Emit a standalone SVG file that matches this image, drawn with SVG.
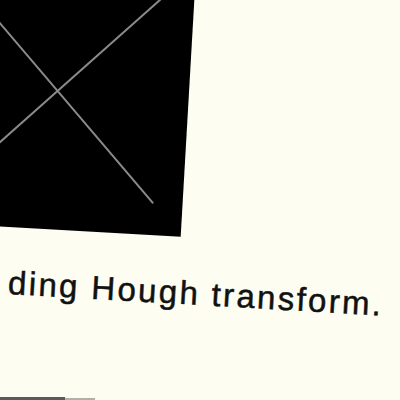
<svg xmlns="http://www.w3.org/2000/svg" width="400" height="400" viewBox="0 0 400 400">
<style>
.bg{fill:#fdfdf1}
.panel{fill:#000}
.xl{stroke:#8a8a8a;stroke-width:2;fill:none;stroke-linecap:round}
.cap{font-family:"Liberation Sans",Arial,sans-serif;font-size:33px;letter-spacing:2.35px;fill:#111;stroke:#111;stroke-width:0.5}
</style>
<rect class="bg" x="0" y="0" width="400" height="400"/>
<g transform="rotate(3.3)">
<g id="panel">
<rect class="panel" x="-100" y="-100" width="294" height="326"/>
<line class="xl" x1="-60" y1="-41" x2="164" y2="193.6"/>
<line class="xl" x1="190" y1="-39.5" x2="-40" y2="190"/>
</g>
<g id="caption">
<text class="cap" x="24.5" y="293">ding Hough transform.</text>
</g>
</g>
<rect x="0" y="397" width="65" height="3" fill="#5a5a5a"/>
<rect x="65" y="398" width="30" height="2" fill="#b0b0a8"/>
</svg>
